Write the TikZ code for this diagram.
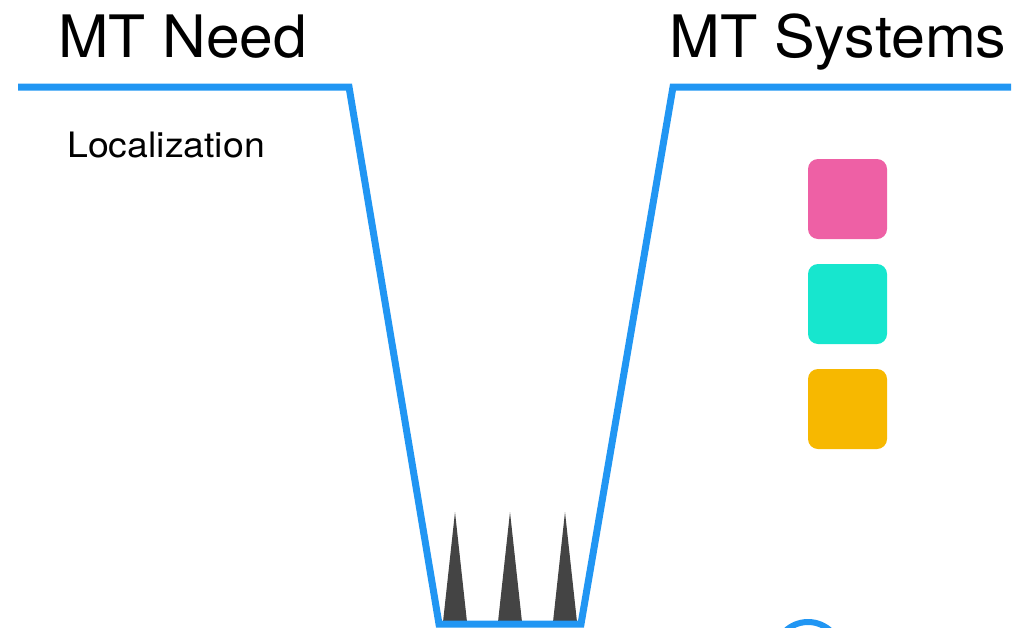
\documentclass[tikz,border=0pt]{standalone}
\usepackage{graphicx}
\usepackage{fontspec}
\setmainfont{TeX Gyre Heros}
\definecolor{lineblue}{HTML}{2196F3}
\definecolor{spikegray}{HTML}{444444}
\definecolor{cpink}{HTML}{EE60A5}
\definecolor{cteal}{HTML}{17E6CE}
\definecolor{corange}{HTML}{F7B800}
\begin{document}
\begin{tikzpicture}[x=1pt,y=-1pt,
  bigtitle/.style={anchor=base west,inner sep=0pt,font=\fontsize{58.5}{60}\selectfont},
  smalltext/.style={anchor=base west,inner sep=0pt,font=\fontsize{35}{37}\selectfont},
  valley/.style={draw=lineblue,line width=7pt,line join=miter},
  spike/.style={fill=spikegray,draw=none},
  sysbox/.style={draw=none,rounded corners=10pt}]
\useasboundingbox (0,0) rectangle (1028,627);
\clip (0,0) rectangle (1028,627);
% titles
\node[bigtitle] (need) at (58,57) {\scalebox{1.035}[1]{MT Need}};
\node[bigtitle] (sys) at (669,57) {\scalebox{1.043}[1]{MT Systems}};
\node[smalltext] (loc) at (67,157) {\scalebox{1.07}[1]{Localization}};
% spikes
\fill[spike] (443,622) -- (455,512) -- (467,622) -- cycle;
\fill[spike] (498,622) -- (510,512) -- (522,622) -- cycle;
\fill[spike] (553,622) -- (565,512) -- (577,622) -- cycle;
% valley line
\draw[valley] (18,87) -- (349,87) -- (439,624) -- (581,624) -- (673,87) -- (1011,87);
% boxes
\fill[sysbox,cpink] (808,159) rectangle (887,239);
\fill[sysbox,cteal] (808,264) rectangle (887,344);
\fill[sysbox,corange] (808,369) rectangle (887,449);
% circle
\draw[lineblue,line width=6pt] (808,655) circle[radius=33];
\end{tikzpicture}
\end{document}
